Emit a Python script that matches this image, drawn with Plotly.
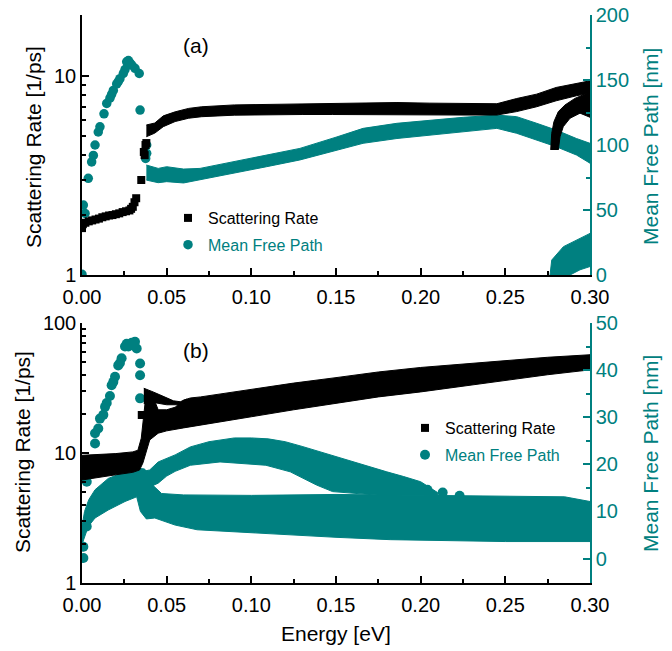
import plotly.graph_objects as go

TEAL = "#008080"
BLACK = "#000000"
FONT = "Liberation Sans, Arial, sans-serif"

# ---------------- Panel (a) ----------------
# Scattering rate, isolated squares (left log axis)
a_sr_pts_E = [0.000, 0.0005, 0.002, 0.004, 0.006, 0.008, 0.010, 0.012, 0.014, 0.016, 0.018,
              0.020, 0.022, 0.024, 0.026, 0.028, 0.029, 0.030, 0.031, 0.032, 0.035, 0.0365,
              0.037, 0.0375, 0.038]
a_sr_pts_V = [1.72, 1.80, 1.83, 1.86, 1.88, 1.90, 1.92, 1.95, 1.97, 1.99, 2.00,
              2.02, 2.04, 2.07, 2.09, 2.11, 2.15, 2.20, 2.32, 2.43, 3.00, 4.15,
              4.00, 4.50, 4.60]
# Scattering rate main band (upper / lower edges)
a_sr_band_E = [0.038, 0.043, 0.048, 0.055, 0.063, 0.0707, 0.090, 0.110, 0.130, 0.148, 0.166,
               0.186, 0.205, 0.225, 0.245, 0.2567, 0.2685, 0.280, 0.292, 0.300]
a_sr_band_hi = [5.67, 5.80, 6.30, 6.60, 6.87, 7.00, 7.15, 7.20, 7.20, 7.25, 7.30,
                7.35, 7.30, 7.25, 7.25, 7.70, 8.10, 8.75, 9.15, 9.45]
a_sr_band_lo = [4.95, 5.16, 5.56, 5.90, 6.13, 6.24, 6.35, 6.40, 6.40, 6.40, 6.40,
                6.40, 6.38, 6.36, 6.36, 6.62, 7.00, 7.50, 7.95, 8.20]
# Scattering rate second branch near 0.28 eV
a_sr_br_hi_E = [0.2768, 0.2774, 0.2787, 0.2813, 0.2852, 0.2911, 0.300]
a_sr_br_hi = [4.25, 5.15, 5.89, 6.62, 7.14, 7.71, 8.33]
a_sr_br_lo_E = [0.2813, 0.2823, 0.2842, 0.2882, 0.2941, 0.300]
a_sr_br_lo = [4.25, 4.95, 5.56, 6.13, 6.50, 6.20]

# Mean free path, isolated circles (right axis)
a_mfp_pts_E = [0.000, 0.0008, 0.0018, 0.0037, 0.0057, 0.0067, 0.0077, 0.0096, 0.0106, 0.013,
               0.0146, 0.0165, 0.0175, 0.0185, 0.0205, 0.0215, 0.0224, 0.0244, 0.0254, 0.0264,
               0.0274, 0.0284, 0.0294, 0.0313, 0.0338, 0.0343, 0.0376, 0.0382, 0.0382]
a_mfp_pts_V = [0.5, 53.8, 47.4, 74.4, 87.0, 92.0, 100.0, 110.0, 114.0, 124.0,
               132.0, 136.0, 139.0, 142.0, 147.0, 149.0, 151.0, 155.0, 158.0, 164.0,
               165.0, 163.0, 161.5, 159.0, 155.0, 126.9, 89.7, 93.6, 100.0]
a_mfp_band_E = [0.038, 0.045, 0.050, 0.060, 0.0697, 0.089, 0.109, 0.1287, 0.150, 0.166,
                0.186, 0.2055, 0.2252, 0.245, 0.2567, 0.2685, 0.280, 0.292, 0.300]
a_mfp_band_hi = [84.6, 82.0, 83.3, 81.5, 82.0, 87.0, 92.3, 97.4, 106.0, 112.8,
                 116.7, 119.0, 121.3, 123.0, 121.8, 116.7, 111.5, 105.0, 101.3]
a_mfp_band_lo = [73.0, 71.0, 71.8, 70.8, 73.0, 78.0, 83.3, 88.5, 96.0, 101.3,
                 105.0, 107.7, 110.3, 112.8, 109.0, 103.8, 98.7, 92.3, 86.0]
a_mfp_br_hi_E = [0.2764, 0.2774, 0.2843, 0.2922, 0.300]
a_mfp_br_hi = [0.0, 11.5, 21.8, 27.0, 32.0]
a_mfp_br_lo_E = [0.2764, 0.2882, 0.2941, 0.300]
a_mfp_br_lo = [0.0, 0.0, 4.0, 6.5]

# ---------------- Panel (b) ----------------
b_sr_pts_E = [0.0353]
b_sr_pts_V = [19.6]
b_sr_hi_E = [0.000, 0.010, 0.020, 0.030, 0.033, 0.035, 0.0365, 0.0375, 0.043, 0.045, 0.050,
             0.055, 0.060, 0.064, 0.070, 0.080, 0.100, 0.125, 0.150, 0.175, 0.200, 0.225,
             0.250, 0.275, 0.300]
b_sr_hi = [9.6, 9.7, 9.9, 10.2, 10.5, 13.0, 20.0, 26.0, 25.0, 21.5, 21.5,
           22.5, 25.5, 26.5, 27.0, 28.3, 31.0, 34.5, 38.0, 42.0, 45.5, 48.5,
           51.5, 54.5, 57.0]
b_sr_lo_E = [0.000, 0.010, 0.020, 0.030, 0.034, 0.036, 0.038, 0.040, 0.045, 0.050, 0.060, 0.070,
             0.080, 0.100, 0.125, 0.150, 0.175, 0.200, 0.225, 0.250, 0.275, 0.300]
b_sr_lo = [6.2, 6.5, 6.8, 7.1, 7.4, 8.4, 10.5, 12.6, 14.2, 14.8, 15.6, 16.4,
           17.3, 19.0, 21.5, 24.2, 27.0, 29.5, 32.5, 36.0, 40.0, 43.6]
b_sr_bump_hi_E = [0.0365, 0.038, 0.042, 0.046, 0.050, 0.054, 0.058, 0.062]
b_sr_bump_hi = [31.5, 31.0, 29.5, 28.0, 26.5, 25.2, 24.8, 26.0]
b_sr_bump_lo_E = [0.0365, 0.038, 0.042, 0.046, 0.050, 0.056, 0.062]
b_sr_bump_lo = [24.0, 24.0, 24.5, 24.0, 23.5, 23.5, 24.5]

b_mfp_pts_E = [0.0008, 0.0008, 0.0028, 0.0028, 0.0077, 0.0077, 0.0096, 0.0106, 0.0126, 0.0136,
               0.0146, 0.0165, 0.0175, 0.0185, 0.0195, 0.0214, 0.0224, 0.0234, 0.0254, 0.0264,
               0.0274, 0.0284, 0.0294, 0.0303, 0.0313, 0.0323, 0.0343, 0.0343, 0.0343,
               0.204, 0.213, 0.223]
b_mfp_pts_V = [0.1, 2.5, 6.8, 16.3, 24.4, 26.6, 27.6, 29.7, 30.5, 32.2,
               33.0, 34.5, 36.8, 37.5, 38.6, 41.0, 41.5, 42.5, 45.0, 45.6,
               45.0, 45.3, 45.8, 45.6, 46.0, 44.6, 41.4, 38.9, 34.0,
               14.6, 14.0, 13.3]
b_mfp_main_hi_E = [0.000, 0.0015, 0.004, 0.0077, 0.0155, 0.0254, 0.0323, 0.037, 0.042, 0.047,
                   0.060, 0.100, 0.150, 0.200, 0.250, 0.285, 0.300]
b_mfp_main_hi = [6.8, 10.0, 12.5, 14.6, 17.0, 18.4, 19.2, 19.0, 15.5, 13.8,
                 13.5, 13.4, 13.6, 13.4, 13.1, 13.1, 12.1]
b_mfp_main_lo_E = [0.000, 0.0008, 0.0037, 0.0077, 0.0155, 0.0254, 0.0323, 0.0345, 0.038, 0.043,
                   0.055, 0.068, 0.0815, 0.100, 0.123, 0.150, 0.182, 0.200, 0.250, 0.300]
b_mfp_main_lo = [3.0, 4.0, 6.8, 8.6, 10.3, 12.1, 13.1, 10.0, 8.4, 8.6,
                 7.1, 6.1, 5.7, 5.4, 5.0, 4.5, 4.0, 3.9, 3.6, 3.6]
b_mfp_arc_hi_E = [0.036, 0.040, 0.045, 0.055, 0.064, 0.075, 0.090, 0.100, 0.110, 0.120,
                  0.130, 0.140, 0.150, 0.160, 0.170, 0.180, 0.190, 0.200, 0.210]
b_mfp_arc_hi = [18.5, 18.8, 20.5, 22.0, 23.7, 24.8, 25.6, 25.6, 25.4, 24.8,
                23.8, 22.7, 21.6, 20.5, 19.5, 18.4, 17.4, 16.3, 14.0]
b_mfp_arc_lo_E = [0.036, 0.042, 0.045, 0.050, 0.055, 0.064, 0.0815, 0.1086, 0.123, 0.1287,
                  0.1385, 0.148, 0.180, 0.210]
b_mfp_arc_lo = [16.5, 15.5, 16.0, 17.5, 18.5, 19.8, 20.5, 19.8, 18.4, 17.4,
                15.6, 14.2, 13.3, 13.3]

# axis ticks
x_ticks = [0.00, 0.05, 0.10, 0.15, 0.20, 0.25, 0.30]
a_right_ticks = [0, 50, 100, 150, 200]
b_right_ticks = [0, 10, 20, 30, 40, 50]


def band(xa, ya, E_hi, hi, E_lo, lo, color):
    return go.Scatter(x=list(E_hi) + list(E_lo)[::-1], y=list(hi) + list(lo)[::-1],
                      xaxis=xa, yaxis=ya, mode="lines", fill="toself",
                      fillcolor=color, line=dict(color=color, width=1),
                      showlegend=False, hoverinfo="skip")


fig = go.Figure()
MFP_NAME = "<span style='color:%s'>Mean Free Path</span>" % TEAL

# panel (a): teal on base axis y (right), black on y2 (left, overlay)
fig.add_trace(band("x", "y", a_mfp_band_E, a_mfp_band_hi, a_mfp_band_E, a_mfp_band_lo, TEAL))
fig.add_trace(band("x", "y", a_mfp_br_hi_E, a_mfp_br_hi, a_mfp_br_lo_E, a_mfp_br_lo, TEAL))
fig.add_trace(go.Scatter(x=a_mfp_pts_E, y=a_mfp_pts_V, xaxis="x", yaxis="y", mode="markers",
                         marker=dict(symbol="circle", size=9.5, color=TEAL),
                         name=MFP_NAME, legend="legend", legendrank=2, legendgroup="a_mfp"))
fig.add_trace(band("x", "y2", a_sr_band_E, a_sr_band_hi, a_sr_band_E, a_sr_band_lo, BLACK))
fig.add_trace(band("x", "y2", a_sr_br_hi_E, a_sr_br_hi, a_sr_br_lo_E, a_sr_br_lo, BLACK))
fig.add_trace(go.Scatter(x=a_sr_pts_E, y=a_sr_pts_V, xaxis="x", yaxis="y2", mode="markers",
                         marker=dict(symbol="square", size=8, color=BLACK),
                         name="Scattering Rate", legend="legend", legendrank=1, legendgroup="a_sr"))

# panel (b): teal on y3 (right), black on y4 (left, overlay)
fig.add_trace(band("x2", "y3", b_mfp_main_hi_E, b_mfp_main_hi, b_mfp_main_lo_E, b_mfp_main_lo, TEAL))
fig.add_trace(band("x2", "y3", b_mfp_arc_hi_E, b_mfp_arc_hi, b_mfp_arc_lo_E, b_mfp_arc_lo, TEAL))
fig.add_trace(go.Scatter(x=b_mfp_pts_E, y=b_mfp_pts_V, xaxis="x2", yaxis="y3", mode="markers",
                         marker=dict(symbol="circle", size=10, color=TEAL),
                         name=MFP_NAME, legend="legend2", legendrank=2, legendgroup="b_mfp"))
fig.add_trace(band("x2", "y4", b_sr_hi_E, b_sr_hi, b_sr_lo_E, b_sr_lo, BLACK))
fig.add_trace(band("x2", "y4", b_sr_bump_hi_E, b_sr_bump_hi, b_sr_bump_lo_E, b_sr_bump_lo, BLACK))
fig.add_trace(go.Scatter(x=b_sr_pts_E, y=b_sr_pts_V, xaxis="x2", yaxis="y4", mode="markers",
                         marker=dict(symbol="square", size=8, color=BLACK),
                         name="Scattering Rate", legend="legend2", legendrank=1, legendgroup="b_sr"))

XDOM = [82 / 672, 590 / 672]
A_DOM = [1 - 275 / 651, 1 - 15 / 651]
B_DOM = [1 - 583 / 651, 1 - 323 / 651]

tickfont = dict(family=FONT, size=20, color=BLACK)
tealfont = dict(family=FONT, size=20, color=TEAL)


def xax(anchor, color=BLACK, labels=True, overlay=None, side="bottom"):
    d = dict(domain=XDOM, anchor=anchor, range=[0, 0.3], tickvals=x_ticks,
             tickformat=".2f", ticks="inside", ticklen=7, tickwidth=1.5, tickcolor=color,
             showline=True, linecolor=color, linewidth=1.5, showgrid=False, zeroline=False,
             showticklabels=labels, tickfont=tickfont, side=side, automargin=False,
             ticklabelstandoff=3,
             minor=dict(dtick=0.025, tick0=0, ticks="inside", ticklen=4, tickwidth=1.5,
                        tickcolor=color, showgrid=False))
    if overlay:
        d["overlaying"] = overlay
    return d


def logax(anchor, overlay, rng):
    return dict(type="log", range=rng, anchor=anchor, overlaying=overlay, side="left",
                dtick=1, ticks="inside", ticklen=7, tickwidth=1.5, tickcolor=BLACK,
                showline=True, linecolor=BLACK, linewidth=1.5, showgrid=False, zeroline=False,
                tickfont=tickfont, exponentformat="none", automargin=False,
                minor=dict(ticks="inside", ticklen=4, tickwidth=1.5, tickcolor=BLACK, showgrid=False))


def linax(anchor, dom, rng, tv, mdt):
    return dict(domain=dom, anchor=anchor, side="right", range=rng, tickvals=tv,
                ticks="inside", ticklen=7, tickwidth=1.5, tickcolor=TEAL,
                showline=True, linecolor=TEAL, linewidth=1.5, showgrid=False, zeroline=False,
                tickfont=tealfont, automargin=False,
                minor=dict(dtick=mdt, tick0=0, ticks="inside", ticklen=4, tickwidth=1.5,
                           tickcolor=TEAL, showgrid=False))


ann_font = dict(family=FONT, size=21, color=BLACK)
ann_teal = dict(family=FONT, size=21, color=TEAL)
annotations = [
    dict(text="(a)", x=196 / 672, y=1 - 45 / 651, xref="paper", yref="paper", showarrow=False,
         font=ann_font, xanchor="center", yanchor="middle"),
    dict(text="(b)", x=196 / 672, y=1 - 350 / 651, xref="paper", yref="paper", showarrow=False,
         font=ann_font, xanchor="center", yanchor="middle"),
    dict(text="Scattering Rate [1/ps]", x=33 / 672, y=1 - 147 / 651, xref="paper", yref="paper",
         showarrow=False, font=ann_font, textangle=-90, xanchor="center", yanchor="middle"),
    dict(text="Scattering Rate [1/ps]", x=23 / 672, y=1 - 452 / 651, xref="paper", yref="paper",
         showarrow=False, font=ann_font, textangle=-90, xanchor="center", yanchor="middle"),
    dict(text="Mean Free Path [nm]", x=650 / 672, y=1 - 147 / 651, xref="paper", yref="paper",
         showarrow=False, font=ann_teal, textangle=-90, xanchor="center", yanchor="middle"),
    dict(text="Mean Free Path [nm]", x=650 / 672, y=1 - 454 / 651, xref="paper", yref="paper",
         showarrow=False, font=ann_teal, textangle=-90, xanchor="center", yanchor="middle"),
    dict(text="Energy [eV]", x=336 / 672, y=1 - 633 / 651, xref="paper", yref="paper",
         showarrow=False, font=ann_font, xanchor="center", yanchor="middle"),
]

leg_common = dict(bgcolor="rgba(0,0,0,0)", borderwidth=0, xanchor="left", yanchor="top",
                  font=dict(family=FONT, size=16, color=BLACK), traceorder="grouped",
                  tracegroupgap=3, itemclick=False)

fig.update_layout(
    width=672, height=651, margin=dict(l=0, r=0, t=0, b=0),
    paper_bgcolor="white", plot_bgcolor="white",
    xaxis=xax("y"),
    xaxis3=xax("y", color=TEAL, labels=False, overlay="x", side="top"),
    yaxis=linax("x", A_DOM, [0, 200], a_right_ticks, 25),
    yaxis2=logax("x", "y", [0, 1.306]),
    xaxis2=xax("y3"),
    xaxis4=xax("y3", color=TEAL, labels=False, overlay="x2", side="top"),
    yaxis3=linax("x2", B_DOM, [-5.2, 50], b_right_ticks, 5),
    yaxis4=logax("x2", "y3", [0, 2]),
    legend=dict(x=168 / 672, y=1 - 201 / 651, **leg_common),
    legend2=dict(x=405 / 672, y=1 - 411 / 651, **leg_common),
    annotations=annotations,
    showlegend=True,
)

fig.write_html("out.html")
